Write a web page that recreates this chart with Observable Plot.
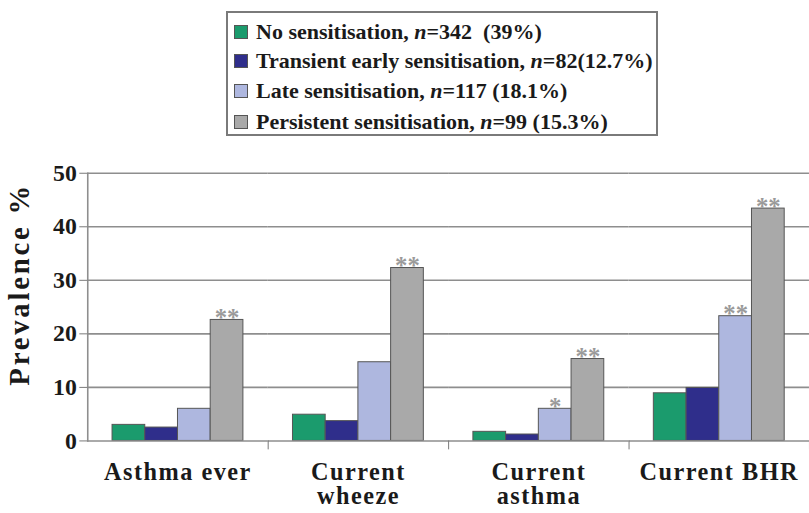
<!DOCTYPE html>
<html>
<head>
<meta charset="utf-8">
<script src="https://cdn.jsdelivr.net/npm/d3@7"></script>
<script src="https://cdn.jsdelivr.net/npm/@observablehq/plot@0.6"></script>
<style>
  html, body { margin: 0; padding: 0; background: #fff; overflow: hidden; width: 809px; height: 513px; }
  #legendArea { position: relative; height: 145px; }
  #legend { position: absolute; left: 226px; top: 11px; width: 428px; height: 121px; border: 2px solid #7a7a7a; box-sizing: content-box; font-family: "Liberation Serif", "Times New Roman", serif; font-weight: bold; font-size: 22px; color: #1a1a1a; }
  .row { position: absolute; left: 6px; height: 30px; display: flex; align-items: center; white-space: pre; }
  .sw { width: 12px; height: 12px; border: 1px solid #555; margin-right: 8px; flex: none; }
  #chart svg { display: block; }
  g[aria-label="fx-axis tick label"] text { letter-spacing: 1.5px; }
</style>
</head>
<body>
<div id="legendArea"><div id="legend"></div></div>
<div id="chart"></div>
<script>
const categories = ["Asthma ever", "Current wheeze", "Current asthma", "Current BHR"];
const categoryLabels = ["Asthma ever", "Current\nwheeze", "Current\nasthma", "Current BHR"];
const series = ["No sensitisation", "Transient early sensitisation", "Late sensitisation", "Persistent sensitisation"];
const legendNs = ["342", "82", "117", "99"];
const legendPcts = ["  (39%)", "(12.7%)", " (18.1%)", " (15.3%)"];
const colors = ["#1b9b6d", "#2f2e8b", "#aeb7df", "#a9a9a9"];
const noSensitisation = [3.0, 4.9, 1.7, 8.9];
const transientEarly = [2.5, 3.7, 1.2, 9.9];
const lateSensitisation = [6.0, 14.7, 6.0, 23.3];
const persistentSensitisation = [22.6, 32.3, 15.3, 43.4];
const lateStars = ["", "", "*", "**"];
const persistentStars = ["**", "**", "**", "**"];
const yTicks = [0, 10, 20, 30, 40, 50];
const yLabel = "Prevalence %";

// legend
const legend = document.getElementById("legend");
const rowTops = [4, 33, 63, 94];
series.forEach((s, i) => {
  const r = document.createElement("div");
  r.className = "row";
  r.style.top = rowTops[i] + "px";
  r.innerHTML = `<span class="sw" style="background:${colors[i]}"></span><span>${s}, <i>n</i>=${legendNs[i]}${legendPcts[i]}</span>`;
  legend.appendChild(r);
});

const allValues = [noSensitisation, transientEarly, lateSensitisation, persistentSensitisation];
const data = [];
categories.forEach((c, ci) => {
  series.forEach((s, si) => {
    data.push({category: c, series: s, value: allValues[si][ci]});
  });
});
const stars = [];
categories.forEach((c, ci) => {
  if (lateStars[ci]) stars.push({category: c, series: series[2], value: lateSensitisation[ci], text: lateStars[ci]});
  if (persistentStars[ci]) stars.push({category: c, series: series[3], value: persistentSensitisation[ci], text: persistentStars[ci]});
});

const plotHeight = 368, mTop = 28, mBottom = 70;
const chart = Plot.plot({
  width: 816,
  height: plotHeight,
  marginLeft: 88,
  marginRight: 0,
  marginTop: mTop,
  marginBottom: mBottom,
  style: {fontFamily: "Liberation Serif, Times New Roman, serif", fontWeight: "bold", color: "#1a1a1a", background: "white"},
  fx: {domain: categories, padding: 0},
  x: {domain: series, paddingInner: 0, paddingOuter: 0.74, axis: null},
  y: {domain: [0, 50]},
  color: {domain: series, range: colors},
  marks: [
    Plot.ruleY(yTicks.filter(d => d > 0), {stroke: "#8e8e8e", strokeWidth: 1.6}),
    Plot.barY(data, {fx: "category", x: "series", y: "value", fill: "series", stroke: "#555", strokeWidth: 1}),
    Plot.ruleY([0], {stroke: "#8e8e8e", strokeWidth: 1.6}),
    Plot.frame({anchor: "left", facet: "super", stroke: "#8e8e8e", strokeWidth: 1.6}),
    Plot.frame({anchor: "right", stroke: "#777", strokeWidth: 1, insetTop: plotHeight - mTop - mBottom, insetBottom: -8}),
    Plot.text(stars, {fx: "category", x: "series", y: "value", text: "text", fill: "#9a9a9a", fontSize: 25, lineAnchor: "bottom", dy: 6}),
    Plot.axisY({ticks: yTicks, tickSize: 8, tickPadding: 3, fontSize: 24, stroke: "#777", fill: "#1a1a1a", label: null}),
    Plot.text([yLabel], {frameAnchor: "left", facet: "super", rotate: -90, textAnchor: "middle", lineAnchor: "middle",
      dx: -69, dy: -23, fontSize: 29, fill: "#1a1a1a"}),
    Plot.axisFx({anchor: "bottom", tickSize: 0, tickPadding: 22, fontSize: 24.5, lineHeight: 1, label: null, fill: "#1a1a1a",
      tickFormat: d => categoryLabels[categories.indexOf(d)]})
  ]
});
d3.select(chart).selectAll("text")
  .filter(function() { return this.textContent === yLabel; })
  .style("letter-spacing", "2.8px");
document.getElementById("chart").appendChild(chart);
</script>
</body>
</html>
